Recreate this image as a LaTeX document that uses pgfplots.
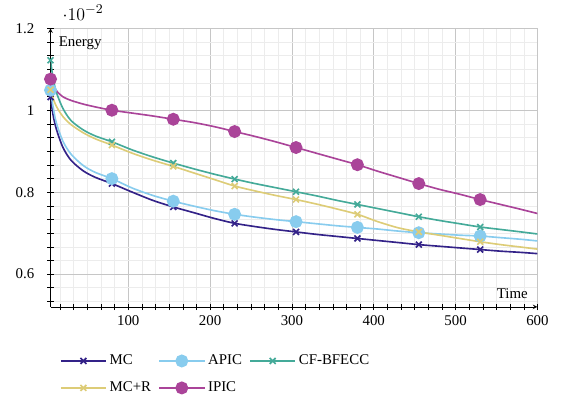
\documentclass[border=0pt]{standalone}
\usepackage{fontspec}
\setmainfont{Liberation Serif}
\usepackage{pgfplots}
\usepackage{pgfplotstable}
\pgfplotsset{compat=1.18}

\definecolor{cmc}{HTML}{332288}
\definecolor{capic}{HTML}{88CCEE}
\definecolor{ccf}{HTML}{44AA99}
\definecolor{cmcr}{HTML}{DDCC77}
\definecolor{cipic}{HTML}{AA4499}

% energy over time, one column per method
\pgfplotstableread{
t   mc      apic    cf      mcr     ipic
5   0.01032 0.01049 0.01122 0.01050 0.01076
8   0.00990 0.01010 0.01080 0.01030 0.01060
12  0.00955 0.00970 0.01045 0.01010 0.01048
20  0.00910 0.00925 0.01005 0.00985 0.01033
30  0.00878 0.00893 0.00975 0.00965 0.01024
45  0.00852 0.00865 0.00952 0.00945 0.01015
60  0.00836 0.00848 0.00937 0.00930 0.01008
80  0.00821 0.00833 0.00923 0.00915 0.01000
105 0.00800 0.00810 0.00903 0.00895 0.00993
130 0.00780 0.00792 0.00886 0.00878 0.00986
155 0.00764 0.00778 0.00871 0.00863 0.00978
180 0.00750 0.00766 0.00857 0.00847 0.00970
205 0.00736 0.00755 0.00844 0.00831 0.00960
230 0.00724 0.00746 0.00832 0.00815 0.00948
255 0.00716 0.00739 0.00821 0.00803 0.00936
280 0.00709 0.00733 0.00811 0.00792 0.00923
305 0.00703 0.00728 0.00801 0.00782 0.00909
330 0.00697 0.00723 0.00791 0.00771 0.00895
355 0.00692 0.00718 0.00780 0.00759 0.00881
380 0.00687 0.00714 0.00770 0.00746 0.00867
405 0.00682 0.00710 0.00760 0.00728 0.00851
430 0.00677 0.00705 0.00750 0.00713 0.00836
455 0.00672 0.00701 0.00740 0.00703 0.00821
480 0.00668 0.00698 0.00731 0.00695 0.00807
505 0.00664 0.00695 0.00723 0.00687 0.00795
530 0.00660 0.00693 0.00715 0.00679 0.00782
555 0.00656 0.00689 0.00709 0.00672 0.00770
580 0.00653 0.00685 0.00703 0.00666 0.00758
600 0.00650 0.00681 0.00698 0.00661 0.00748
}\energy

\begin{document}
\begin{tikzpicture}
\begin{axis}[
    scale only axis,
    width=11.5cm, height=6.58cm,
    axis lines=left,
    xmin=5, xmax=600,
    ymin=0.0052, ymax=0.012,
    xtick={100,200,...,600},
    ytick={0.006,0.008,0.01,0.012},
    minor xtick={0,16.6667,...,600},
    minor ytick={0.005,0.00533333,...,0.0121},
    scaled y ticks=base 10:2,
    grid=both,
    major grid style={gray!45},
    minor grid style={gray!15},
    tick align=center,
    major tick length=4.5pt,
    minor tick length=4.5pt,
    tick style={black, thin},
    yticklabel style={inner xsep=10.5pt, xshift=2pt},
    xticklabel style={inner xsep=9pt},
    every y tick scale label/.style={at={(axis description cs:0,1)}, anchor=south west,
        xshift=-4.5pt, yshift=2pt, font=\fontsize{13}{15}\selectfont},
    xlabel={Time},
    ylabel={Energy},
    x label style={at={(axis description cs:1,0)}, anchor=south east, xshift=-3pt, yshift=2pt},
    y label style={at={(axis description cs:0,1)}, anchor=north west, rotate=-90, xshift=2pt, yshift=-2pt},
    /pgf/number format/assume math mode=true,
    every axis plot/.append style={smooth, line width=1.1pt},
    legend columns=3,
    legend cell align=left,
    legend image code/.code={
        \draw[mark indices={2}] plot coordinates {(0cm,0cm) (0.53cm,0cm) (1.06cm,0cm)};},
    legend style={draw=none, at={(axis description cs:0.01,-0.15)}, anchor=north west,
        row sep=6pt,
        /tikz/every even column/.append style={column sep=3pt}},
]
\addplot[cmc, mark=x, mark size=2.8pt, mark indices={1,8,11,14,17,20,23,26}] table[x=t, y=mc] {\energy};
\addlegendentry{MC}
\addplot[capic, mark=*, mark size=3.8pt, mark indices={1,8,11,14,17,20,23,26}] table[x=t, y=apic] {\energy};
\addlegendentry{APIC}
\addplot[ccf, mark=x, mark size=2.8pt, mark indices={1,8,11,14,17,20,23,26}] table[x=t, y=cf] {\energy};
\addlegendentry{CF-BFECC}
\addplot[cmcr, mark=x, mark size=2.8pt, mark indices={1,8,11,14,17,20,23,26}] table[x=t, y=mcr] {\energy};
\addlegendentry{MC+R}
\addplot[cipic, mark=*, mark size=3.8pt, mark indices={1,8,11,14,17,20,23,26}] table[x=t, y=ipic] {\energy};
\addlegendentry{IPIC}
\end{axis}
\end{tikzpicture}
\end{document}
